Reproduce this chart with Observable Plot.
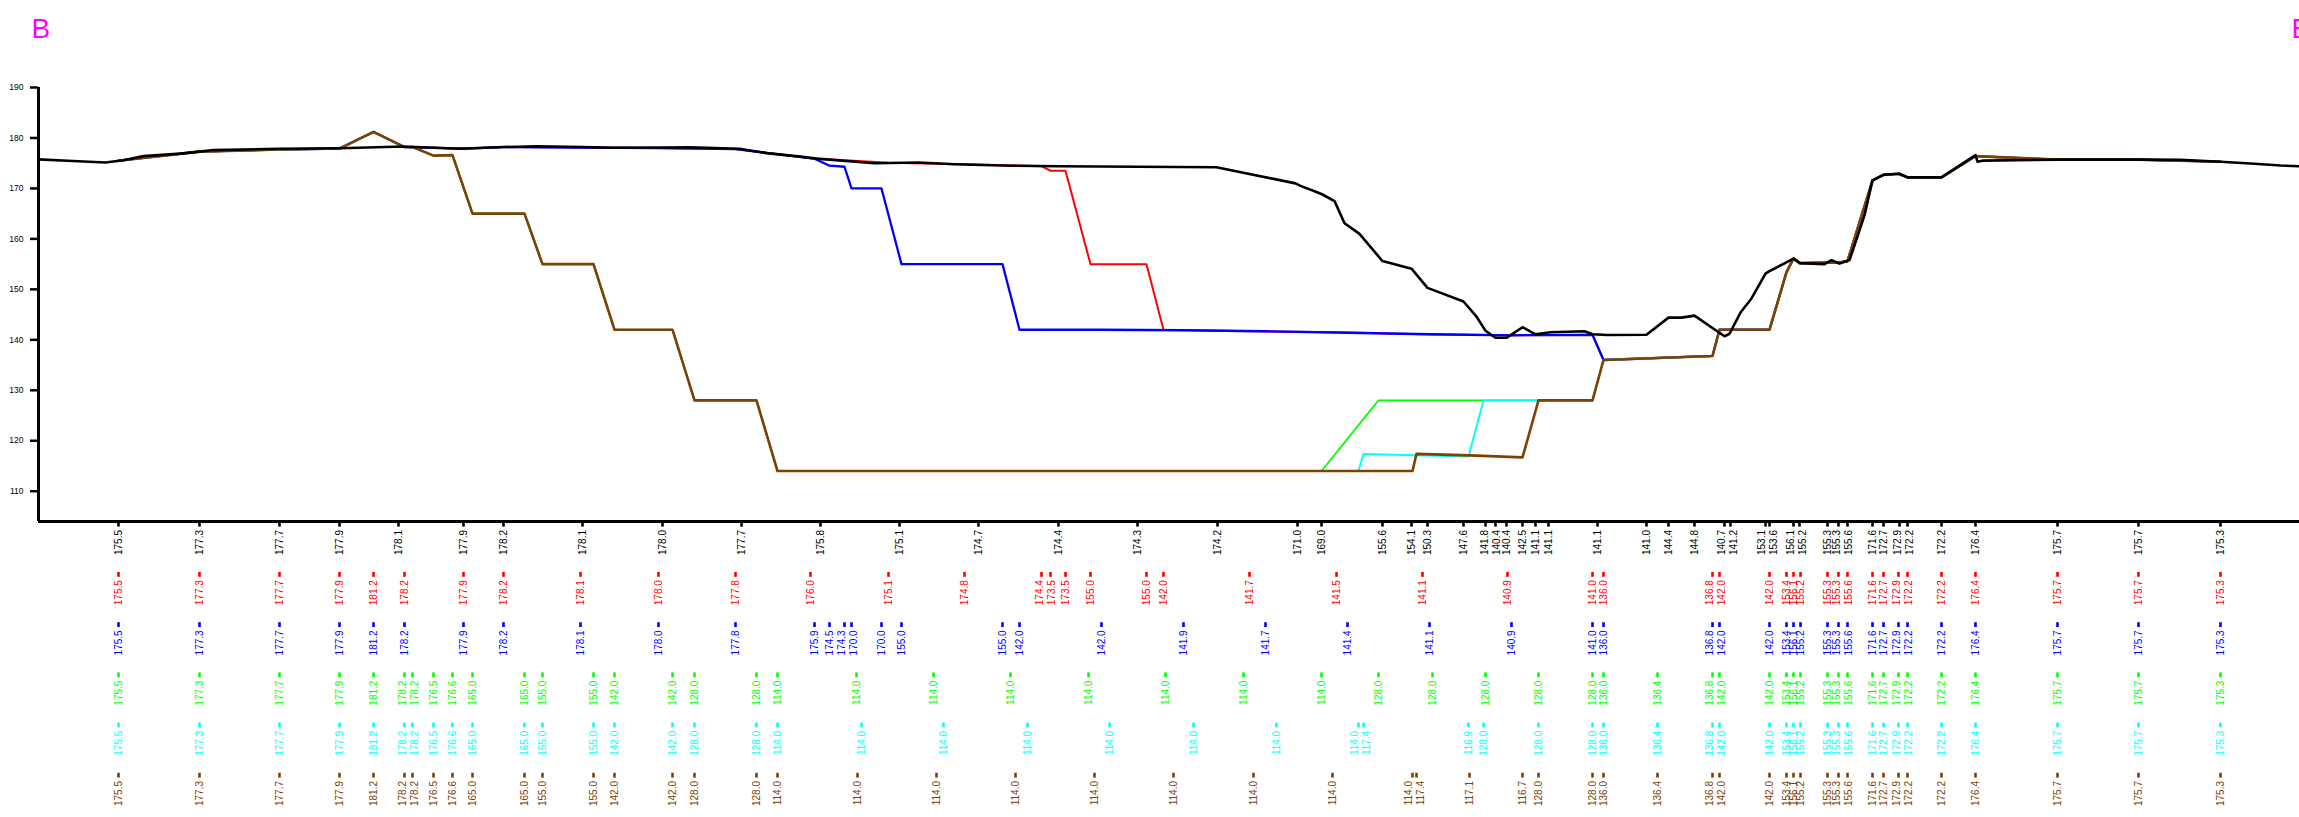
<!DOCTYPE html>
<html><head><meta charset="utf-8">
<script src="https://cdn.jsdelivr.net/npm/d3@7"></script>
<script src="https://cdn.jsdelivr.net/npm/@observablehq/plot@0.6"></script>
<style>html,body{margin:0;padding:0;background:#fff;overflow:hidden;} svg{display:block}</style>
</head><body><div id="chart"></div>
<script>
// Ground profile (station, elevation)
const groundStation = [0,29,67,85,105,142,161,175,241,302,364,422,465,498,544,575,624,651,701,728,762,778,836,880,916,972,1020,1099,1178,1257,1262,1278,1284,1296,1306,1321,1344,1373,1389,1425,1438,1447,1457,1468,1484,1497,1512,1546,1554,1569,1608,1630,1643,1656,1686,1691,1702,1713,1727,1731,1755,1761,1786,1793,1801,1811,1820,1826,1834,1845,1861,1869,1903,1937,1939,1944,2019,2100,2142,2182,2212,2242,2261];
const groundElev = [175.75,175.5,175.15,175.6,176.4,176.9,177.3,177.6,177.85,177.95,178.3,177.85,178.2,178.35,178.2,178.05,178.1,178.15,177.85,177.0,176.3,175.9,175.0,175.15,174.8,174.5,174.4,174.3,174.2,171.0,170.5,169.3,168.8,167.5,163.1,161.0,155.6,154.1,150.3,147.6,144.6,141.8,140.4,140.4,142.5,141.1,141.5,141.7,141.1,140.95,141.0,144.4,144.4,144.8,140.7,141.2,145.4,148.2,153.1,153.6,156.1,155.2,155.0,155.8,155.1,155.8,161.1,164.7,171.6,172.7,172.9,172.2,172.2,176.6,175.3,175.5,175.7,175.7,175.65,175.3,174.95,174.55,174.4];

// Ground tick stations and labels
const groundTickStation = [80,161,241,301,360,425,465,544,624,703,782,861,940,1020,1099,1179,1259,1283,1344,1373,1389,1425,1447,1457,1468,1484,1497,1510,1559,1608,1630,1656,1686,1692,1727,1731,1755,1761,1789,1800,1809,1834,1845,1861,1869,1903,1937,2019,2100,2182];
const groundTickLabel = [175.5,177.3,177.7,177.9,178.1,177.9,178.2,178.1,178.0,177.7,175.8,175.1,174.7,174.4,174.3,174.2,171.0,169.0,155.6,154.1,150.3,147.6,141.8,140.4,140.4,142.5,141.1,141.1,141.1,141.0,144.4,144.8,140.7,141.2,153.1,153.6,156.1,155.2,155.3,155.3,155.6,171.6,172.7,172.9,172.2,172.2,176.4,175.7,175.7,175.3];

// Shared head and tail of the stage profiles
const headStation = [80,161,241,301,335,366];
const headElev = [175.5,177.3,177.7,177.9,181.2,178.2];
const tailStation = [1674,1681,1731,1748,1755,1762,1789,1800,1809,1834,1845,1860,1869,1903,1937,2019,2100,2182];
const tailElev = [136.8,142.0,142.0,153.4,156.1,155.2,155.3,155.3,155.6,171.6,172.7,172.9,172.2,172.2,176.4,175.7,175.7,175.3];

// Stage profiles (middle parts)
const redStation = [425,465,542,620,697,772,850,926,1003,1012,1027,1052,1108,1125,1211,1298,1384,1469,1554,1565];
const redElev = [177.9,178.2,178.1,178.0,177.8,176.0,175.1,174.8,174.4,173.5,173.5,155.0,155.0,142.0,141.7,141.5,141.1,140.9,141.0,136.0];
const blueStation = [425,465,542,620,697,776,791,806,813,843,863,964,981,1063,1145,1227,1309,1391,1473,1554,1565];
const blueElev = [177.9,178.2,178.1,178.0,177.8,175.9,174.5,174.3,170.0,170.0,155.0,155.0,142.0,142.0,141.9,141.7,141.4,141.1,140.9,141.0,136.0];
const greenStation = [374,395,414,434,486,504,555,576,634,656,718,739,818,895,972,1050,1127,1205,1283,1340,1394,1447,1500,1554,1565,1619];
const greenElev = [178.2,176.5,176.6,165.0,165.0,155.0,155.0,142.0,142.0,128.0,128.0,114.0,114.0,114.0,114.0,114.0,114.0,114.0,114.0,128.0,128.0,128.0,128.0,128.0,136.0,136.4];
const cyanStation = [374,395,414,434,486,504,555,576,634,656,718,739,823,905,989,1071,1155,1238,1320,1325,1430,1445,1500,1554,1565,1619];
const cyanElev = [178.2,176.5,176.6,165.0,165.0,155.0,155.0,142.0,142.0,128.0,128.0,114.0,114.0,114.0,114.0,114.0,114.0,114.0,114.0,117.4,116.9,128.0,128.0,128.0,136.0,136.4];
const brownStation = [374,395,414,434,486,504,555,576,634,656,718,739,819,898,977,1056,1135,1215,1294,1374,1378,1431,1484,1500,1554,1565,1619];
const brownElev = [178.2,176.5,176.6,165.0,165.0,155.0,155.0,142.0,142.0,128.0,128.0,114.0,114.0,114.0,114.0,114.0,114.0,114.0,114.0,114.0,117.4,117.1,116.7,128.0,128.0,136.0,136.4];

const yTicks = [110,120,130,140,150,160,170,180,190];
const endLabels = ["B","E"];

const zip = (s, v) => s.map((d, i) => ({s: d, v: v[i]}));
const stage = (s, v) => zip([...headStation, ...s, ...tailStation], [...headElev, ...v, ...tailElev]);

// spread isolated close pairs of labels apart so they stay readable
function withLabelPos(data) {
  const out = data.map(d => ({...d, ls: d.s}));
  let i = 0;
  while (i < out.length) {
    let j = i;
    while (j + 1 < out.length && out[j + 1].s - out[j].s < 11) j++;
    if (j - i === 1) {
      const m = (out[i].s + out[j].s) / 2;
      if (out[j].s - out[i].s < 12) { out[i].ls = m - 6; out[j].ls = m + 6; }
    }
    i = j + 1;
  }
  return out;
}

const series = [
  {color: "#ff0000", width: 2.0, data: stage(redStation, redElev)},
  {color: "#0000ff", width: 2.3, data: stage(blueStation, blueElev)},
  {color: "#00ff00", width: 1.7, data: stage(greenStation, greenElev)},
  {color: "#00ffff", width: 2.0, data: stage(cyanStation, cyanElev)},
  {color: "#804000", width: 2.6, data: stage(brownStation, brownElev)}
];
const ground = zip(groundStation, groundElev);
const rows = [{color: "#000000", data: zip(groundTickStation, groundTickLabel)}, ...series];

const W = 2299, H = 817, mT = 87, mB = 296, mL = 38;
const frameH = H - mT - mB;
const rowGap = 50.2;

const marks = [];
for (const s of series) {
  marks.push(Plot.line(s.data, {x: "s", y: "v", stroke: s.color, strokeWidth: s.width, strokeLinejoin: "round"}));
}
marks.push(Plot.line(ground, {x: "s", y: "v", stroke: "#000", strokeWidth: 2.6, strokeLinejoin: "round"}));
marks.push(Plot.ruleY([104], {stroke: "#000", strokeWidth: 3}));
marks.push(Plot.ruleX([0], {stroke: "#000", strokeWidth: 3}));
marks.push(Plot.axisY({ticks: yTicks, tickSize: 8, tickPadding: 7, fontSize: 8.5, strokeWidth: 2.5, label: null, tickFormat: d => String(d)}));
rows.forEach((r, k) => {
  const off = k * rowGap;
  const lab = withLabelPos(r.data);
  marks.push(Plot.ruleX(r.data, {x: "s", stroke: r.color, strokeWidth: 2.6, insetTop: frameH + off + 0.8, insetBottom: -(off + 5.6)}));
  marks.push(Plot.text(lab, {x: "ls", text: d => d.v.toFixed(1), frameAnchor: "bottom", rotate: -90, textAnchor: "end", lineAnchor: "middle", dy: off + 8.5, fontSize: 10, fill: r.color}));
});
marks.push(Plot.text([endLabels[0]], {text: d => d, frameAnchor: "top-left", dx: -7, dy: -50, fontSize: 28, fill: "#ff00ff", textAnchor: "start", lineAnchor: "bottom"}));
marks.push(Plot.text([endLabels[1]], {text: d => d, frameAnchor: "top-right", dx: -8, dy: -50, fontSize: 28, fill: "#ff00ff", textAnchor: "start", lineAnchor: "bottom"}));

const chart = Plot.plot({
  width: W, height: H,
  marginLeft: mL, marginRight: 0, marginTop: mT, marginBottom: mB,
  style: {fontFamily: "'Liberation Sans', Arial, sans-serif", background: "#fff"},
  x: {domain: [0, 2261], axis: null},
  y: {domain: [104, 190], axis: null},
  marks
});
document.getElementById("chart").appendChild(chart);
</script>
</body></html>
